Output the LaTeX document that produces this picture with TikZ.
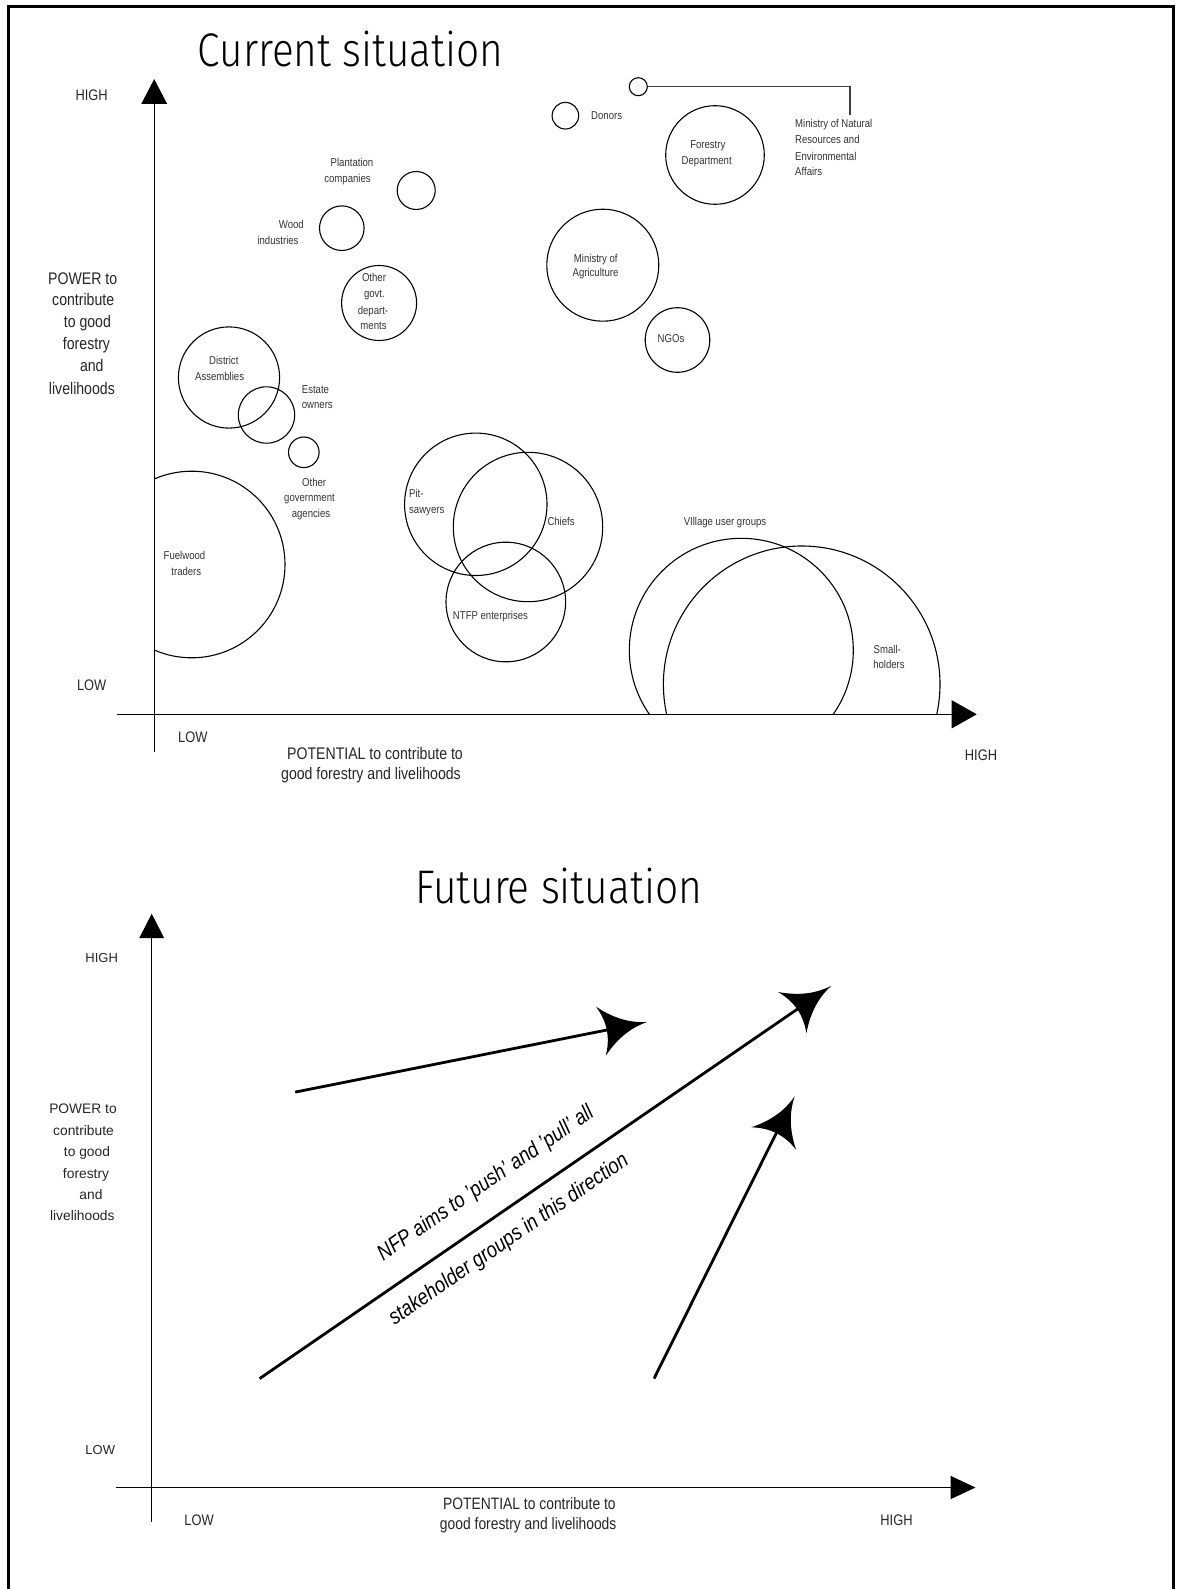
\documentclass[tikz,border=0pt]{standalone}
\usepackage{fontspec}
\usepackage{graphicx}
\setmainfont{Liberation Sans}[FakeStretch=0.84]
\newfontfamily\plainfont{Liberation Sans}
\newfontfamily\titlefont{Fira Sans Light}
\usetikzlibrary{arrows.meta}
\begin{document}
\begin{tikzpicture}[x=1pt,y=-1pt,
  lbl/.style={inner sep=0pt, anchor=mid, text=black!80, font=\fontsize{11.4}{13}\selectfont},
  lblw/.style={lbl, anchor=mid west},
  axlbl/.style={inner sep=0pt, anchor=mid, text=black!85, font=\fontsize{16.8}{20}\selectfont},
  hilo/.style={inner sep=0pt, anchor=mid, text=black!85, font=\fontsize{15.3}{18}\selectfont},
  plainlbl/.style={inner sep=0pt, anchor=mid, text=black!85, font=\plainfont\fontsize{13.8}{16}\selectfont},
  plainhilo/.style={inner sep=0pt, anchor=mid, text=black!85, font=\plainfont\fontsize{13}{16}\selectfont},
  ttl/.style={inner sep=0pt, anchor=base, font=\titlefont\fontsize{49.5}{56}\selectfont},
  rottxt/.style={inner sep=0pt, anchor=center, rotate=34.5, font=\itshape\fontsize{22}{26}\selectfont},
  bub/.style={circle, draw, line width=1.1pt, inner sep=0pt},
  axisline/.style={line width=1.3pt},
  shaft/.style={line width=2.8pt},
  headpic/.pic={\fill (0,0) .. controls (-14,2) and (-30,8) .. (-47,25)
      .. controls (-39,8) and (-39,-8) .. (-47,-25)
      .. controls (-30,-8) and (-14,-2) .. (0,0) -- cycle;}
]
\useasboundingbox (0,0) rectangle (1176,1589);
\fill[white] (0,0) rectangle (1176,1589);
% frame
\draw[line width=2.8pt] (8.5,1592) -- (8.5,6.5) -- (1173.3,6.5) -- (1173.3,1592);

% ================= CURRENT SITUATION =================
\node[ttl] (t1) at (350.5,66.7) {\resizebox{305pt}{35.5pt}{Current situation}};

% axes
\coordinate (y1b) at (154.2,751.7);
\coordinate (y1t) at (154.2,79);
\coordinate (x1l) at (116.7,714.3);
\coordinate (x1r) at (976.7,714.3);
\draw[axisline,-{Triangle[length=25pt,width=25.6pt]}] (y1b) -- (y1t);
\draw[axisline,-{Triangle[length=25pt,width=28pt]}] (x1l) -- (x1r);

\node[hilo] (h1) at (91.7,97.5) {HIGH};
\node[hilo] (l1) at (91.7,688.3) {LOW};
\node[hilo] (l1x) at (192.8,740) {LOW};
\node[hilo] (h1x) at (981,758.3) {HIGH};

\node[axlbl] (p1a) at (82.7,281.7) {POWER to};
\node[axlbl] (p1b) at (83.2,303.3) {contribute};
\node[axlbl] (p1c) at (87.4,325) {to good};
\node[axlbl] (p1d) at (86.5,347.3) {forestry};
\node[axlbl] (p1e) at (91.8,369) {and};
\node[axlbl] (p1f) at (81.9,391.7) {livelihoods};

\node[axlbl] (q1a) at (375,756.5) {POTENTIAL to contribute to};
\node[axlbl] (q1b) at (371,777) {good forestry and livelihoods};

% bubbles
\node[bub, minimum size=18pt] (mnr) at (638.3,86.7) {};
\coordinate (mnrend) at (850,115);
\draw[line width=1.4pt, black!75] (mnr.east) -| (mnrend);
\node[lblw] (mnr1) at (795,125) {Ministry of Natural};
\node[lblw] (mnr2) at (795,141) {Resources and};
\node[lblw] (mnr3) at (795,157.7) {Environmental};
\node[lblw] (mnr4) at (795,172.7) {Affairs};

\node[bub, minimum size=26.6pt] (don) at (565.4,115.7) {};
\node[lblw] (donl) at (591,116.7) {Donors};

\node[bub, minimum size=98.6pt] (fd) at (715,155) {};
\node[lbl] (fd1) at (707.8,145.7) {Forestry};
\node[lbl] (fd2) at (706.7,161.7) {Department};

\node[bub, minimum size=38pt] (pc) at (416.2,190.5) {};
\node[lbl] (pc1) at (352,164) {Plantation};
\node[lbl] (pc2) at (347.5,180) {companies};

\node[bub, minimum size=44.6pt] (wi) at (341.8,228.2) {};
\node[lbl] (wi1) at (291.4,226) {Wood};
\node[lbl] (wi2) at (278,242) {industries};

\node[bub, minimum size=75pt] (og) at (379.1,303) {};
\node[lbl] (og1) at (374,279.3) {Other};
\node[lbl] (og2) at (374.4,295) {govt.};
\node[lbl] (og3) at (373,311.7) {depart-};
\node[lbl] (og4) at (373.5,327) {ments};

\node[bub, minimum size=112pt] (ma) at (602.8,265.2) {};
\node[lbl] (ma1) at (595.8,260) {Ministry of};
\node[lbl] (ma2) at (595.5,274) {Agriculture};

\node[bub, minimum size=64.6pt] (ngo) at (677.5,340) {};
\node[lbl] (ngol) at (671,340) {NGOs};

\node[bub, minimum size=101.2pt] (da) at (229,377.5) {};
\node[lbl] (da1) at (223.8,361.7) {District};
\node[lbl] (da2) at (219.6,377.7) {Assemblies};

\node[bub, minimum size=56.4pt] (eo) at (266.5,415) {};
\node[lblw] (eo1) at (301.7,390.7) {Estate};
\node[lblw] (eo2) at (301.7,406) {owners};

\node[bub, minimum size=30.6pt] (oa) at (303.8,452.3) {};
\node[lbl] (oa1) at (314.2,484) {Other};
\node[lbl] (oa2) at (309.5,499.3) {government};
\node[lbl] (oa3) at (311,515) {agencies};

\begin{scope}
  \clip (154.2,0) rectangle (1176,1589);
  \node[bub, minimum size=186.6pt] (fw) at (191.7,564.5) {};
\end{scope}
\node[lbl] (fw1) at (184.5,556.7) {Fuelwood};
\node[lbl] (fw2) at (186.3,572.7) {traders};

\node[bub, minimum size=142.4pt] (ps) at (475.8,504.3) {};
\node[lblw] (ps1) at (409,495) {Pit-};
\node[lblw] (ps2) at (409,511) {sawyers};

\node[bub, minimum size=149.4pt] (ch) at (528,527) {};
\node[lblw] (chl) at (547.3,522.7) {Chiefs};

\node[bub, minimum size=119.6pt] (nt) at (505.8,602) {};
\node[lbl] (ntl) at (490.5,616.7) {NTFP enterprises};

\begin{scope}
  \clip (0,0) rectangle (1176,714.3);
  \node[bub, minimum size=224pt] (vu) at (741.3,650.3) {};
  \node[bub, minimum size=276.6pt] (sh) at (801.7,684.3) {};
\end{scope}
\node[lbl] (vul) at (725,523.3) {VIllage user groups};
\node[lbl] (sh1) at (887.3,650.7) {Small-};
\node[lbl] (sh2) at (889,666) {holders};

% ================= FUTURE SITUATION =================
\node[ttl] (t2) at (558.5,903) {\resizebox{287pt}{35.5pt}{Future situation}};

\coordinate (y2b) at (151.7,1522);
\coordinate (y2t) at (151.7,913.7);
\coordinate (x2l) at (115.7,1487.5);
\coordinate (x2r) at (975.4,1487.5);
\draw[axisline,-{Triangle[length=24.5pt,width=24.7pt]}] (y2b) -- (y2t);
\draw[axisline,-{Triangle[length=24.7pt,width=23pt]}] (x2l) -- (x2r);

\node[plainhilo] (h2) at (101.7,959.4) {HIGH};
\node[plainhilo] (l2) at (100.3,1451.4) {LOW};
\node[hilo] (l2x) at (199,1523) {LOW};
\node[hilo] (h2x) at (896.5,1523) {HIGH};

\node[plainlbl] (p2a) at (83,1110.4) {POWER to};
\node[plainlbl] (p2b) at (83.5,1133) {contribute};
\node[plainlbl] (p2c) at (87,1154) {to good};
\node[plainlbl] (p2d) at (86,1175.5) {forestry};
\node[plainlbl] (p2e) at (91,1196.7) {and};
\node[plainlbl] (p2f) at (82.3,1218) {livelihoods};

\node[axlbl, font=\fontsize{16.5}{19}\selectfont] (q2a) at (529.4,1506.4) {POTENTIAL to contribute to};
\node[axlbl, font=\fontsize{16.5}{19}\selectfont] (q2b) at (528.2,1526.8) {good forestry and livelihoods};

% arrows
\coordinate (a1s) at (295.2,1092.1);
\coordinate (a1t) at (647,1022);
\coordinate (a2s) at (259.6,1378.6);
\coordinate (a2t) at (831,986);
\coordinate (a3s) at (654,1378.6);
\coordinate (a3t) at (794.6,1096.4);
\draw[shaft, shorten >=34pt] (a1s) -- (a1t);
\draw[shaft, shorten >=34pt] (a2s) -- (a2t);
\draw[shaft, shorten >=34pt] (a3s) -- (a3t);
\path (a1s) -- (a1t) pic[pos=1, sloped] {headpic};
\path (a2s) -- (a2t) pic[pos=1, sloped] {headpic};
\path (a3s) -- (a3t) pic[pos=1, sloped] {headpic};

\node[rottxt] (n1) at (486,1184) {NFP aims to 'push' and 'pull' all};
\node[rottxt] (n2) at (509,1240) {stakeholder groups in this direction};
\end{tikzpicture}
\end{document}
